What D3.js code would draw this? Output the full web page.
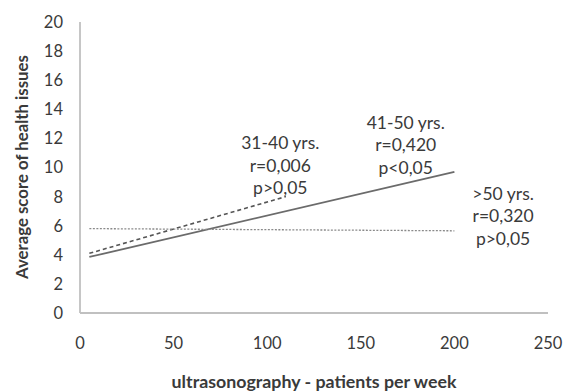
<!DOCTYPE html>
<html><head><meta charset="utf-8">
<script src="https://cdn.jsdelivr.net/npm/d3@7"></script>
<style>body{margin:0;background:#fff}svg{display:block}text{font-family:Lato,"Open Sans",sans-serif;fill:#3a3a3a}</style>
</head><body><div id="chart"></div>
<script>
// Data
const groups = ["31-40 yrs.", "41-50 yrs.", ">50 yrs."];
const rValues = ["r=0,006", "r=0,420", "r=0,320"];
const pValues = ["p>0,05", "p<0,05", "p>0,05"];
const startX = [5, 5, 5];
const endX = [110, 200, 200];
const startY = [4.1, 3.85, 5.8];
const endY = [8.0, 9.7, 5.65];
const xTicks = [0, 50, 100, 150, 200, 250];
const yTicks = [0, 2, 4, 6, 8, 10, 12, 14, 16, 18, 20];

// Styling / layout
const W = 564, H = 391;
const styles = [
  {stroke: "#555", dash: "4,3", width: 1.6},
  {stroke: "#6b6b6b", dash: null, width: 1.8},
  {stroke: "#8a8a8a", dash: "2,1.5", width: 1.3}
];
// label anchors in data units
const labelPos = [[107, 11.7], [174, 13.1], [226, 8.2]];

const svg = d3.select("#chart").append("svg").attr("width", W).attr("height", H);
const x = d3.scaleLinear().domain([0, 250]).range([80, 548]);
const y = d3.scaleLinear().domain([0, 20]).range([313, 22]);

// axes lines
svg.append("line").attr("x1", x(0)).attr("x2", x(0)).attr("y1", y(20)).attr("y2", y(0))
  .attr("stroke", "#c0c0c0").attr("stroke-width", 1.8);
svg.append("line").attr("x1", x(0)).attr("x2", x(250)).attr("y1", y(0)).attr("y2", y(0))
  .attr("stroke", "#c0c0c0").attr("stroke-width", 1.8);

// tick labels
svg.selectAll(".yt").data(yTicks).enter().append("text")
  .attr("x", 63).attr("y", d => y(d)).attr("dy", "0.36em")
  .attr("text-anchor", "end").attr("font-size", 16.5).text(d => d);
svg.selectAll(".xt").data(xTicks).enter().append("text")
  .attr("x", d => x(d)).attr("y", 343).attr("dy", "0.36em")
  .attr("text-anchor", "middle").attr("font-size", 16.5).text(d => d);

// titles
svg.append("text").attr("transform", "translate(22,167) rotate(-90)")
  .attr("dy", "0.36em").attr("text-anchor", "middle").attr("font-size", 16.8).attr("font-weight", "bold")
  .text("Average score of health issues");
svg.append("text").attr("x", (x(0) + x(250)) / 2).attr("y", 382).attr("dy", "0.36em")
  .attr("text-anchor", "middle").attr("font-size", 17.8).attr("font-weight", "bold")
  .text("ultrasonography - patients per week");

// trend lines
groups.forEach((g, i) => {
  const l = svg.append("line")
    .attr("x1", x(startX[i])).attr("y1", y(startY[i]))
    .attr("x2", x(endX[i])).attr("y2", y(endY[i]))
    .attr("stroke", styles[i].stroke).attr("stroke-width", styles[i].width);
  if (styles[i].dash) l.attr("stroke-dasharray", styles[i].dash);
  const [lx, ly] = labelPos[i];
  const lines = [g, rValues[i], pValues[i]];
  lines.forEach((t, j) => {
    svg.append("text").attr("x", x(lx)).attr("y", y(ly) + j * 22.5).attr("dy", "0.36em")
      .attr("text-anchor", "middle").attr("font-size", 17.5).text(t);
  });
});
</script></body></html>
